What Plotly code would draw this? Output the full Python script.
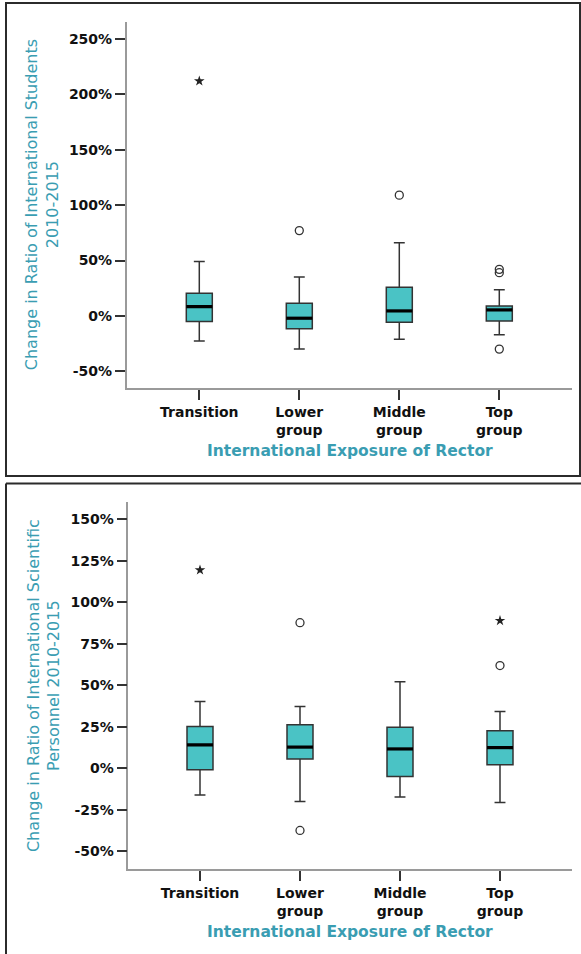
import plotly.graph_objects as go

# Category labels (International Exposure of Rector)
categories = ["Transition", "Lower<br>group", "Middle<br>group", "Top<br>group"]
positions = [0, 1, 2, 3]

# Panel A: change in ratio of international students 2010-2015 (%)
stu_low = [-22.6, -30.0, -21.0, -17.0]
stu_q1 = [-5.1, -11.7, -5.7, -4.5]
stu_med = [8.4, -2.1, 4.5, 5.4]
stu_q3 = [20.5, 11.5, 25.9, 9.0]
stu_high = [49.0, 35.0, 66.0, 23.5]
stu_out_pos = [1, 2, 3, 3, 3]
stu_out_val = [77.0, 109.0, 42.0, 39.0, -30.0]
stu_ext_pos = [0]
stu_ext_val = [212.0]
stu_ticks = [-50, 0, 50, 100, 150, 200, 250]

# Panel B: change in ratio of international scientific personnel 2010-2015 (%)
per_low = [-16.0, -20.0, -17.3, -20.6]
per_q1 = [-0.9, 5.7, -4.9, 2.1]
per_med = [14.1, 12.8, 11.7, 12.5]
per_q3 = [25.2, 26.2, 24.8, 22.7]
per_high = [40.2, 37.2, 52.2, 34.2]
per_out_pos = [1, 1, 3]
per_out_val = [87.7, -37.4, 61.9]
per_ext_pos = [0, 3]
per_ext_val = [119.4, 88.9]
per_ticks = [-50, -25, 0, 25, 50, 75, 100, 125, 150]

W, H = 581, 954
BOX_W = 0.26
FILL = "#4AC3C5"
EDGE = "#333333"
TEAL = "#3A9DB2"
TICK_FONT = dict(family="DejaVu Sans", size=14, color="#111111", weight="bold")

fig = go.Figure()


def add_panel(xref, yref, low, q1, med, q3, high, op, ov, ep, ev):
    fig.add_trace(go.Box(
        x=positions, lowerfence=low, q1=q1, median=med, q3=q3, upperfence=high,
        width=BOX_W, whiskerwidth=0.42, fillcolor=FILL,
        line=dict(color=EDGE, width=1.5), boxpoints=False,
        xaxis=xref, yaxis=yref, showlegend=False, hoverinfo="skip",
    ))
    # thicker median bars
    for p, m in zip(positions, med):
        fig.add_trace(go.Scatter(
            x=[p - BOX_W / 2, p + BOX_W / 2], y=[m, m], mode="lines",
            line=dict(color="#000000", width=3.2),
            xaxis=xref, yaxis=yref, showlegend=False, hoverinfo="skip",
        ))
    fig.add_trace(go.Scatter(
        x=op, y=ov, mode="markers",
        marker=dict(symbol="circle-open", size=8, color="#333333",
                    line=dict(width=1.3)),
        xaxis=xref, yaxis=yref, showlegend=False, hoverinfo="skip",
    ))
    fig.add_trace(go.Scatter(
        x=ep, y=ev, mode="markers",
        marker=dict(symbol="star", size=8, color="#222222"),
        xaxis=xref, yaxis=yref, showlegend=False, hoverinfo="skip",
    ))


add_panel("x", "y", stu_low, stu_q1, stu_med, stu_q3, stu_high,
          stu_out_pos, stu_out_val, stu_ext_pos, stu_ext_val)
add_panel("x2", "y2", per_low, per_q1, per_med, per_q3, per_high,
          per_out_pos, per_out_val, per_ext_pos, per_ext_val)


def px_x(v):
    return v / W


def px_y(v):
    return (H - v) / H


xcommon = dict(
    tickmode="array", tickvals=positions, ticktext=categories,
    showline=True, linecolor="#9a9a9a", linewidth=1.5,
    ticks="outside", ticklen=10, tickwidth=1.5, tickcolor="#333333",
    tickfont=TICK_FONT, showgrid=False, zeroline=False, fixedrange=True,
)
ycommon = dict(
    tickmode="array",
    showline=True, linecolor="#9a9a9a", linewidth=1.5,
    ticks="outside", ticklen=10, tickwidth=1.5, tickcolor="#333333",
    tickfont=TICK_FONT, showgrid=False, zeroline=False, fixedrange=True,
)

fig.update_layout(
    width=W, height=H,
    margin=dict(l=0, r=0, t=0, b=0),
    paper_bgcolor="white", plot_bgcolor="white",
    xaxis=dict(domain=[px_x(126.7), px_x(571.7)], range=[-0.726, 3.724],
               anchor="y", **xcommon),
    yaxis=dict(domain=[px_y(388), px_y(21.7)], range=[-65.1, 265.6],
               tickvals=stu_ticks, ticktext=[f"{v}%" for v in stu_ticks],
               anchor="x", **ycommon),
    xaxis2=dict(domain=[px_x(128.3), px_x(571.7)], range=[-0.717, 3.717],
                anchor="y2", **xcommon),
    yaxis2=dict(domain=[px_y(869), px_y(502.3)], range=[-60.6, 160.2],
                tickvals=per_ticks, ticktext=[f"{v}%" for v in per_ticks],
                anchor="x2", **ycommon),
)

# Axis titles
title_y_font = dict(family="DejaVu Sans", size=16, color=TEAL)
title_x_font = dict(family="DejaVu Sans", size=15.5, color=TEAL, weight="bold")
annotations = [
    dict(text="Change in Ratio of International Students<br>2010-2015",
         x=px_x(41.5), y=px_y(204.7), textangle=-90, font=title_y_font),
    dict(text="Change in Ratio of International Scientific<br>Personnel 2010-2015",
         x=px_x(43.3), y=px_y(685.8), textangle=-90, font=title_y_font),
    dict(text="International Exposure of Rector",
         x=px_x(350), y=px_y(451.5), font=title_x_font),
    dict(text="International Exposure of Rector",
         x=px_x(350), y=px_y(932), font=title_x_font),
]
for a in annotations:
    fig.add_annotation(xref="paper", yref="paper", showarrow=False,
                       xanchor="center", yanchor="middle", **a)

# Panel frames
frame = dict(color="#2b2b2b", width=2)
fig.add_shape(type="rect", xref="paper", yref="paper",
              x0=px_x(6), x1=px_x(580), y0=px_y(476), y1=px_y(3), line=frame)
fig.add_shape(type="line", xref="paper", yref="paper",
              x0=px_x(6), x1=px_x(581), y0=px_y(483.5), y1=px_y(483.5), line=frame)
fig.add_shape(type="line", xref="paper", yref="paper",
              x0=px_x(6), x1=px_x(6), y0=px_y(483.5), y1=px_y(954), line=frame)

fig.write_html("out.html")
